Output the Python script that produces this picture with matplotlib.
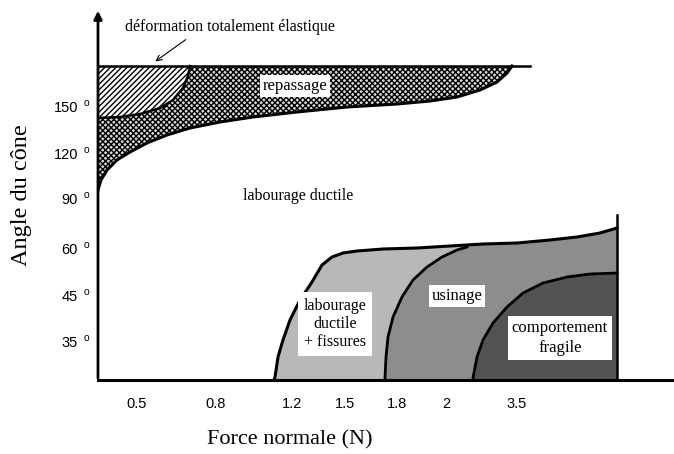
import matplotlib.pyplot as plt
from matplotlib.patches import Polygon

# schematic coordinates: x = pixels right of the y axis, y = pixels above the x axis
xtick_pos = [39, 118, 194, 247, 299, 348, 419]
xtick_labels = ['0.5', '0.8', '1.2', '1.5', '1.8', '2', '3.5']
ytick_pos = [272, 225, 180, 130, 83, 37]
ytick_labels = ['150', '120', '90', '60', '45', '35']

# region boundaries
top_band = 314
repassage_low_x = [0, 3, 9, 19, 32, 49, 69, 92, 122, 155, 199, 249, 299, 332, 359, 382, 399, 409, 414]
repassage_low_y = [190, 200, 210, 220, 228, 237, 245, 252, 258, 263, 268, 273, 276, 279, 283, 290, 298, 307, 314]
elastique_x = [92, 90, 85, 75, 62, 42, 22, 0]
elastique_y = [314, 304, 292, 280, 272, 266, 263, 262]
fissures_x = [176, 177, 180, 185, 192, 202, 214, 224, 234, 245, 259]
fissures_y = [0, 3, 23, 40, 60, 80, 98, 115, 123, 127, 129]
top_x = [285, 319, 352, 385, 419, 452, 479, 502, 519]
top_y = [131, 132, 134, 136, 137, 140, 143, 147, 152]
usinage_x = [287, 287, 288, 290, 295, 304, 315, 329, 344, 359, 369]
usinage_y = [0, 2, 23, 43, 63, 83, 100, 113, 123, 130, 133]
fragile_x = [375, 375, 379, 385, 395, 409, 425, 445, 469, 492, 519]
fragile_y = [0, 2, 23, 40, 57, 73, 87, 97, 103, 106, 107]

serif = 'Liberation Serif'
sans = 'Liberation Sans'

fig = plt.figure(figsize=(6.74, 4.54), dpi=100)
ax = fig.add_axes([98 / 674, 74 / 454, 576 / 674, 370 / 454])
ax.set_xlim(0, 576)
ax.set_ylim(0, 370)
for s in ax.spines.values():
    s.set_visible(False)
ax.set_xticks([])
ax.set_yticks([])


def region(xs, ys, **kw):
    p = Polygon(list(zip(xs, ys)), closed=True, **kw)
    ax.add_patch(p)
    return p


# lower regions
right = 519
region(fissures_x + top_x + [right], fissures_y + top_y + [0], facecolor='#b8b8b8', edgecolor='none')
k = sum(1 for v in top_x if v <= usinage_x[-1])
region(usinage_x + top_x[k:] + [right], usinage_y + top_y[k:] + [0], facecolor='#8d8d8d', edgecolor='none')
region(fragile_x + [right], fragile_y + [0], facecolor='#535353', edgecolor='none')
ax.plot(fissures_x + top_x, fissures_y + top_y, color='black', lw=2.2, solid_joinstyle='round')
ax.plot(usinage_x, usinage_y, color='black', lw=2.0, solid_joinstyle='round')
ax.plot(fragile_x, fragile_y, color='black', lw=2.0, solid_joinstyle='round')
ax.plot([right, right], [0, 165], color='black', lw=1.8)

# upper regions
plt.rcParams['hatch.linewidth'] = 1.0
rep_x = [0] + repassage_low_x[::-1]
rep_y = [top_band] + repassage_low_y[::-1]
region(rep_x, rep_y, facecolor='#d8d8d8', edgecolor='black', hatch='xxxxxx', lw=0)
region([0] + elastique_x, [top_band] + elastique_y, facecolor='white', edgecolor='black', hatch='//////', lw=0)
ax.plot(repassage_low_x, repassage_low_y, color='black', lw=2.2, solid_joinstyle='round')
ax.plot(elastique_x, elastique_y, color='black', lw=1.8, solid_joinstyle='round')
ax.plot([0, 432], [top_band, top_band], color='black', lw=1.8)

# axes
ax.plot([0, 576], [0, 0], color='black', lw=2.2, clip_on=False)
ax.annotate('', xy=(0, 372), xytext=(0, -1),
            arrowprops=dict(arrowstyle='-|>', color='black', lw=2.0, mutation_scale=12),
            annotation_clip=False)

for xp, lab in zip(xtick_pos, xtick_labels):
    ax.text(xp, -24, lab, ha='center', va='center', fontsize=10.5, family=sans)
for yp, lab in zip(ytick_pos, ytick_labels):
    ax.text(-20, yp, lab, ha='right', va='center', fontsize=10.5, family=sans)
    ax.text(-12, yp + 5, 'o', ha='center', va='center', fontsize=7.5, family=sans)

ax.text(192, -60, 'Force normale (N)', ha='center', va='center', fontsize=16, family=serif)
ax.text(-76, 185, 'Angle du cône', ha='center', va='center', rotation=90, fontsize=17.5, family=serif)

# region labels
box = dict(facecolor='white', edgecolor='none', pad=2)
ax.text(132, 353, 'déformation totalement élastique', ha='center', va='center', fontsize=11.5, family=serif)
ax.annotate('', xy=(55, 317), xytext=(90, 342),
            arrowprops=dict(arrowstyle='->', color='black', lw=0.8))
ax.text(197, 294, 'repassage', ha='center', va='center', fontsize=12, family=serif, bbox=box)
ax.text(200, 184, 'labourage ductile', ha='center', va='center', fontsize=11.5, family=serif)
ax.text(237, 56, 'labourage\nductile\n+ fissures', ha='center', va='center', fontsize=11.5,
        family=serif, linespacing=1.2, bbox=dict(facecolor='white', edgecolor='none', pad=4))
ax.text(359, 84, 'usinage', ha='center', va='center', fontsize=12, family=serif, bbox=box)
ax.text(462, 42, 'comportement\nfragile', ha='center', va='center', fontsize=12,
        family=serif, linespacing=1.3, bbox=dict(facecolor='white', edgecolor='none', pad=3))

fig.savefig('out.png', dpi=100)
